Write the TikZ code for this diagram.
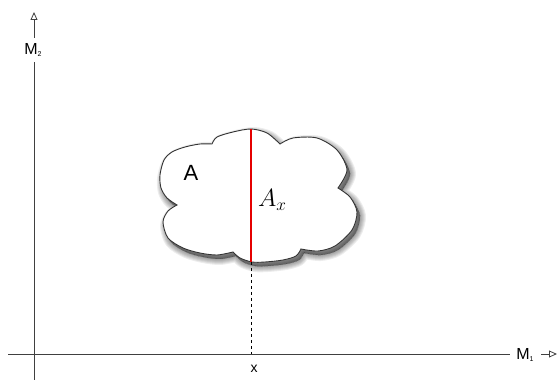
\documentclass[tikz,border=0pt]{standalone}
\usepackage{fontspec}
\setmainfont{Liberation Sans}
\usetikzlibrary{arrows.meta}
\def\cloudpath{
  plot[smooth] coordinates {(177,175) (167,182) (161,192) (160,205) (164,220) (172,228) (185,233) (200,236) (212,236)}
  -- plot[smooth] coordinates {(212,236) (217,243) (233,248) (251,251) (267,247) (280,236)}
  -- plot[smooth] coordinates {(280,236) (293,242) (317,242) (337,230) (347,210) (338,192)}
  -- plot[smooth] coordinates {(338,192) (350,183) (357,168) (352,150) (335,134) (318,129) (301,131)}
  -- plot[smooth] coordinates {(301,131) (296,124) (283,120) (265,118) (252,118) (240,122) (233,128)}
  -- plot[smooth] coordinates {(233,128) (217,125) (200,127) (183,132) (168,142) (163,158) (168,169) (177,175)}
  -- cycle}
\begin{document}
\begin{tikzpicture}[x=1pt,y=1pt,
  axis/.style={draw=black!75, line width=0.8pt},
  axtip/.style={-{Triangle[open,length=8pt,width=7pt]}},
  lbl/.style={font=\fontsize{16}{16}\selectfont, inner sep=0pt},
]
\useasboundingbox (0,0) rectangle (558,380);
% axes
\coordinate (vb) at (34,0);
\coordinate (vm) at (34,318);
\coordinate (vt0) at (34,342);
\coordinate (vt) at (34,368);
\draw[axis] (vb) -- (vm);
\draw[axis,axtip] (vt0) -- (vt);
\node[lbl] (m2) at (33,330) {M\raisebox{-0.35ex}{\fontsize{7}{7}\selectfont 2}};
\coordinate (hl) at (8,26);
\coordinate (hr) at (510,26);
\coordinate (hs) at (541,26);
\coordinate (ht) at (557,26);
\draw[axis] (hl) -- (hr);
\draw[axis,axtip] (hs) -- (ht);
\node[lbl] (m1) at (525,25) {M\raisebox{-0.35ex}{\fontsize{7}{7}\selectfont 1}};
% cloud shadow (soft)
\foreach \w in {12,10,8,6,4,2,0}{
  \path[fill=black, draw=black, line width=\w pt, line join=round, opacity=0.07, shift={(3,-4)}] \cloudpath;
}
% cloud
\path[fill=white, draw=black!80, line width=0.9pt] \cloudpath;
\coordinate (rt) at (251,251);
\coordinate (rb) at (251,118);
\coordinate (xa) at (251,26);
\draw[red!90!black, line width=1.3pt] (rt) -- (rb);
\draw[black, dashed, line width=0.6pt] (rb) -- (xa);
\node[inner sep=0pt, font=\fontsize{22}{22}\selectfont] (a) at (191,207) {A};
\node[inner sep=0pt, anchor=base west, font=\fontsize{25}{25}\selectfont] (ax) at (258,173) {$A_x$};
\node[inner sep=0pt, font=\fontsize{14}{14}\selectfont] (x) at (254,11) {x};
\end{tikzpicture}
\end{document}
